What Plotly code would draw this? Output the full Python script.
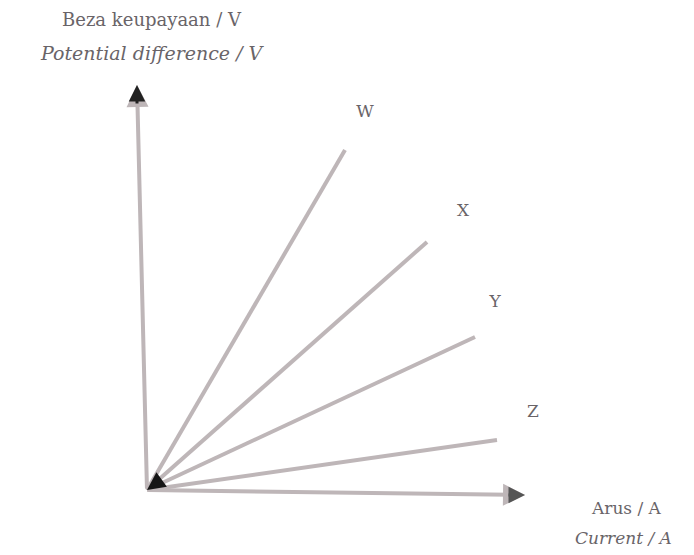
import plotly.graph_objects as go

# end points of each line (current, potential difference), all start at origin
labels = ["W", "X", "Y", "Z"]
current_end = [198, 280, 328, 350]
voltage_end = [340, 248, 153, 50]

# where the letters sit
label_x = [218, 316, 348, 386]
label_y = [377, 278, 187, 77]

line_col = "rgba(190,182,184,1)"
text_col = "rgba(105,100,104,1)"
font_name = "DejaVu Serif"

fig = go.Figure()

for name, cx, vy in zip(labels, current_end, voltage_end):
    fig.add_trace(go.Scatter(
        x=[0, cx], y=[0, vy],
        mode="lines",
        line=dict(color=line_col, width=4),
        showlegend=False,
        hoverinfo="skip",
        name=name))

fig.add_trace(go.Scatter(
    x=label_x, y=label_y,
    mode="text",
    text=labels,
    textfont=dict(family=font_name, size=17, color=text_col),
    showlegend=False,
    hoverinfo="skip"))

# axes drawn as arrows
fig.add_annotation(x=-10, y=405, ax=0, ay=0, xref="x", yref="y",
                   axref="x", ayref="y", showarrow=True, arrowhead=2,
                   arrowsize=1.1, arrowwidth=4, arrowcolor=line_col, text="")
fig.add_annotation(x=-10, y=405, ax=-10, ay=385, xref="x", yref="y",
                   axref="x", ayref="y", showarrow=True, arrowhead=2,
                   arrowsize=1.1, arrowwidth=3, arrowcolor="#222", text="")
fig.add_annotation(x=378, y=-5, ax=0, ay=0, xref="x", yref="y",
                   axref="x", ayref="y", showarrow=True, arrowhead=2,
                   arrowsize=1.1, arrowwidth=4, arrowcolor=line_col, text="")
fig.add_annotation(x=378, y=-5, ax=360, ay=-5, xref="x", yref="y",
                   axref="x", ayref="y", showarrow=True, arrowhead=2,
                   arrowsize=1.1, arrowwidth=3, arrowcolor="#555", text="")

# dark blob where the lines meet
fig.add_annotation(x=0, y=0, ax=14, ay=10, xref="x", yref="y",
                   axref="x", ayref="y", showarrow=True, arrowhead=2,
                   arrowsize=1.2, arrowwidth=3, arrowcolor="#151515", text="")

# axis titles
fig.add_annotation(x=5, y=471, xref="x", yref="y", showarrow=False,
                   text="Beza keupayaan / V",
                   font=dict(family=font_name, size=18, color=text_col))
fig.add_annotation(x=5, y=437, xref="x", yref="y", showarrow=False,
                   text="<i>Potential difference / V</i>",
                   font=dict(family=font_name, size=19, color=text_col))
fig.add_annotation(x=479, y=-18, xref="x", yref="y", showarrow=False,
                   text="Arus / A",
                   font=dict(family=font_name, size=17, color=text_col))
fig.add_annotation(x=476, y=-48, xref="x", yref="y", showarrow=False,
                   text="<i>Current / A</i>",
                   font=dict(family=font_name, size=17, color=text_col))

# page body has an 8px margin, so shift the ranges to keep pixel positions
fig.update_xaxes(range=[-139, 555], visible=False, fixedrange=True)
fig.update_yaxes(range=[-73, 482], visible=False, fixedrange=True)
fig.update_layout(
    width=694, height=555,
    margin=dict(l=0, r=0, t=0, b=0),
    paper_bgcolor="white", plot_bgcolor="white")

fig.write_html("out.html")
